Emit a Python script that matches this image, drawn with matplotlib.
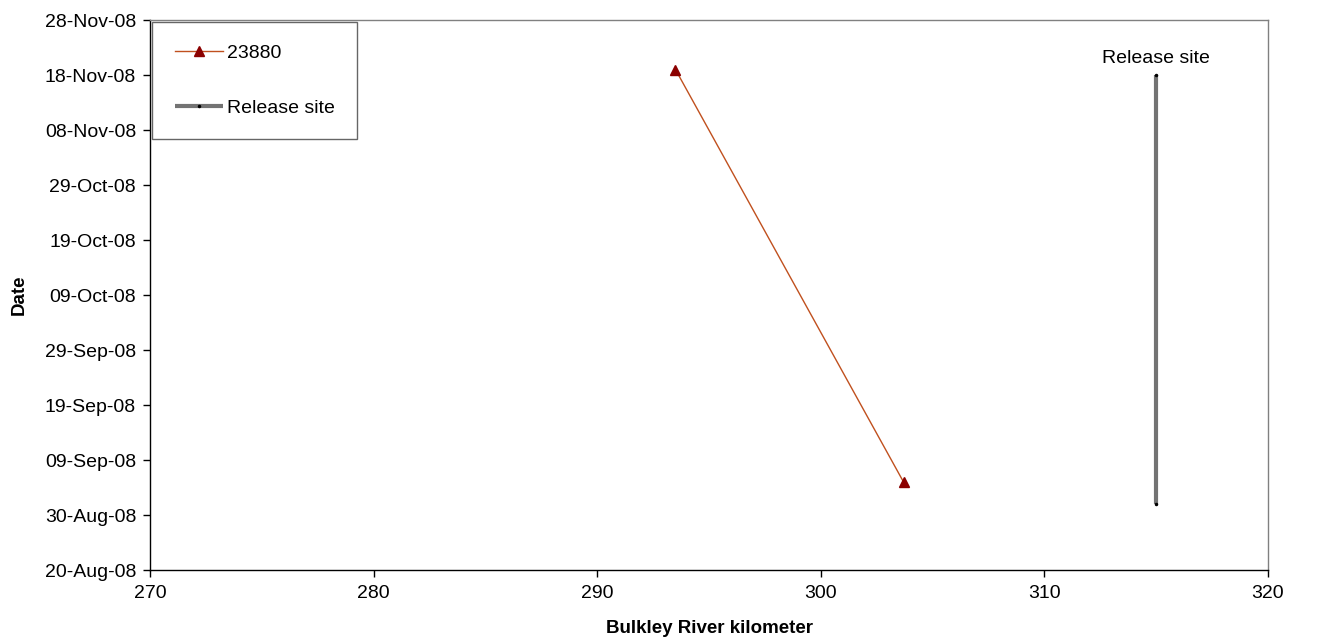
import matplotlib
matplotlib.use("Agg")
import matplotlib.pyplot as plt
import matplotlib.dates as mdates
from datetime import datetime

plt.rcParams['font.family'] = ['Liberation Sans', 'DejaVu Sans']

# Data
fish_id = "23880"
fish_km = [293.5, 303.7]
fish_dates = ["19-Nov-08", "05-Sep-08"]
release_label = "Release site"
release_km = [315, 315]
release_dates = ["01-Sep-08", "18-Nov-08"]
x_ticks = [270, 280, 290, 300, 310, 320]
y_start, y_end = "20-Aug-08", "28-Nov-08"

def d(s):
    return datetime.strptime(s, "%d-%b-%y")

fig = plt.figure(figsize=(13.28, 6.42), dpi=100)
ax = fig.add_axes([150/1328, 72/642, (1268-150)/1328, (570-20)/642])

ax.plot(fish_km, [d(s) for s in fish_dates], color='#C0501E', linewidth=1.0,
        marker='^', markersize=7, markerfacecolor='#8B0000', markeredgecolor='#8B0000',
        label=fish_id)
ax.plot(release_km, [d(s) for s in release_dates], color='#737373', linewidth=3.0,
        marker='.', markersize=3, markerfacecolor='black', markeredgecolor='black',
        label=release_label, solid_capstyle='butt')
ax.annotate(release_label, xy=(release_km[1], d(release_dates[1])), xytext=(0, 6),
            textcoords='offset points', ha='center', va='bottom', fontsize=14)

ax.set_xlim(x_ticks[0], x_ticks[-1])
ax.set_xticks(x_ticks)
ax.set_ylim(d(y_start), d(y_end))
yt = [mdates.date2num(d(y_start)) + 10*i for i in range(11)]
ax.set_yticks(yt)
ax.yaxis.set_major_formatter(mdates.DateFormatter("%d-%b-%y"))

ax.tick_params(axis='both', direction='out', length=5, width=1, labelsize=14, colors='black')
ax.tick_params(axis='x', pad=6)
ax.tick_params(axis='y', pad=5)
for s in ['left', 'bottom']:
    ax.spines[s].set_color('black')
    ax.spines[s].set_linewidth(1)
for s in ['top', 'right']:
    ax.spines[s].set_color('#808080')
    ax.spines[s].set_linewidth(1)

ax.set_xlabel("Bulkley River kilometer", fontsize=13.5, fontweight='bold', labelpad=13)
ax.set_ylabel("Date", fontsize=13.5, fontweight='bold', labelpad=12)

leg = ax.legend(loc='upper left', bbox_to_anchor=(0.002, 0.996), fontsize=14, frameon=True,
                fancybox=False, edgecolor='#404040', handlelength=2.5, labelspacing=1.9,
                borderpad=1.15, handletextpad=0.2, borderaxespad=0)
leg.get_frame().set_linewidth(1)

fig.savefig("out.png", dpi=100)
